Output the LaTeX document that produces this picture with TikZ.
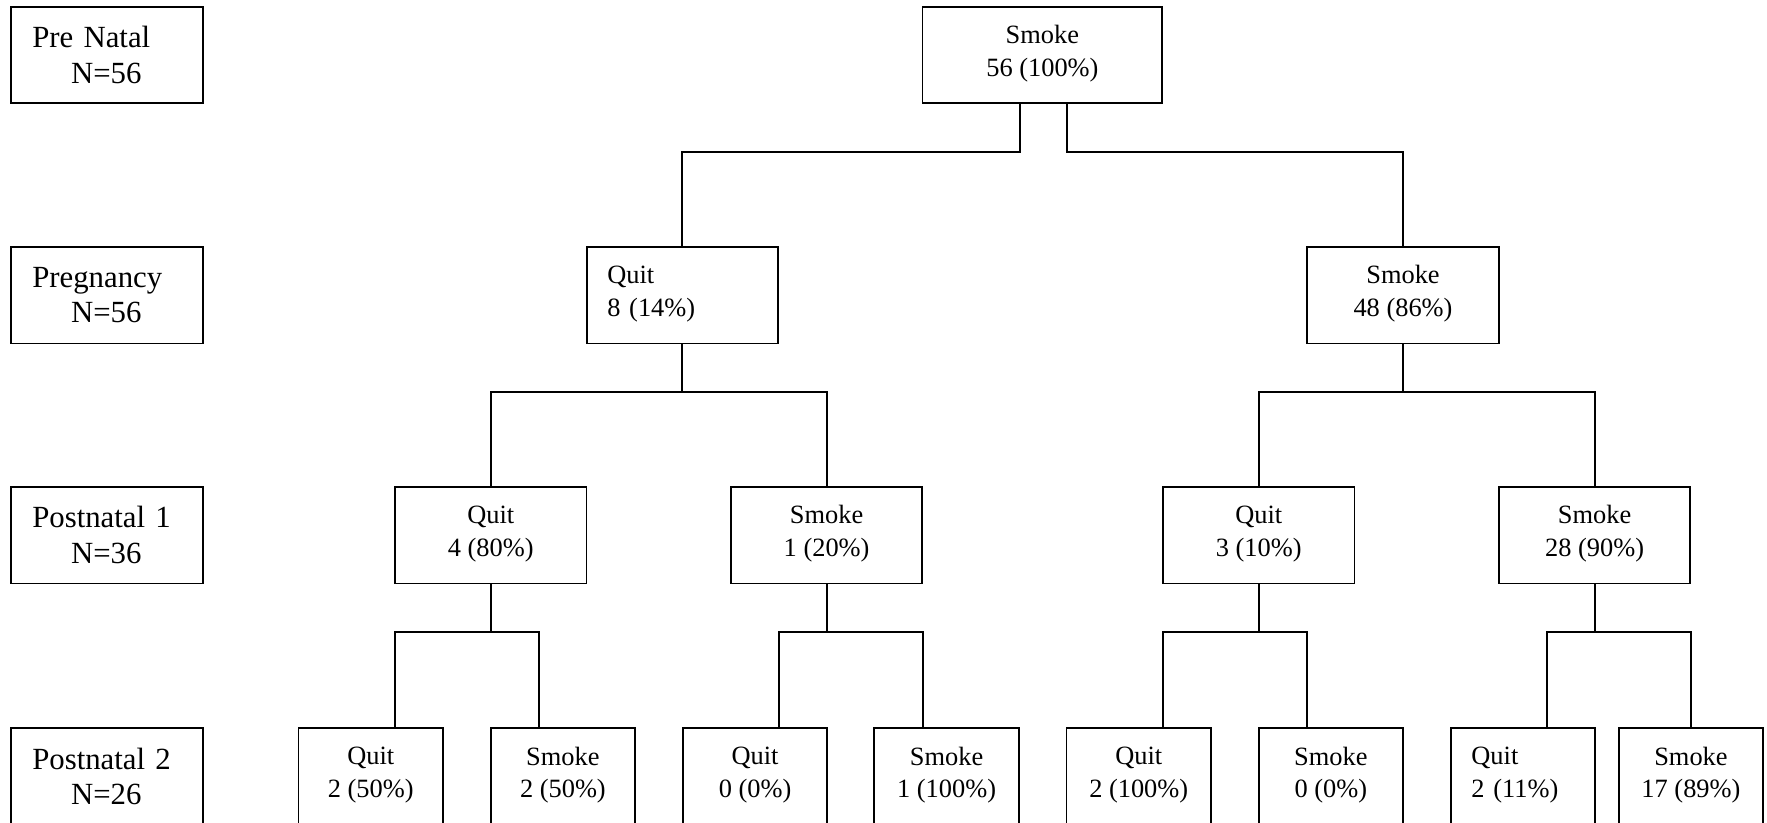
\documentclass[tikz,border=0pt]{standalone}
\usepackage{fontspec}
\setmainfont{Liberation Serif}
\usetikzlibrary{calc}
\tikzset{
  lab/.style={draw,line width=0.85pt,minimum width=3.07cm,minimum height=1.54cm,
              inner xsep=0.34cm,text width=2.39cm,align=left,
              font=\fontsize{14}{16.2}\selectfont},
  cell/.style={draw,line width=0.85pt,minimum height=1.54cm,align=center,
              text depth=3.8pt,font=\fontsize{12}{14.8}\selectfont},
  mid/.style={cell,minimum width=3.06cm},
  wide/.style={cell,minimum width=3.83cm},
  leaf/.style={cell,minimum width=2.31cm},
  lcell/.style={align=left,inner xsep=0.33cm,text depth=18.6pt},
  link/.style={line width=0.85pt},
}

\begin{document}
\begin{tikzpicture}[x=0.018cm,y=0.018cm]
  \useasboundingbox (0,0) rectangle (1568,730);

  % ---- stage labels ----
  \node[lab] (prenatal) at (95,681) {Pre Natal\\\hspace*{0.62cm}N=56};
  \node[lab] (pregnancy) at (95,468) {Pregnancy\\\hspace*{0.62cm}N=56};
  \node[lab] (postone) at (95,255) {Postnatal 1\\\hspace*{0.62cm}N=36};
  \node[lab] (posttwo) at (95,41) {Postnatal 2\\\hspace*{0.62cm}N=26};

  % ---- tree ----
  \node[wide] (root) at (925,681) {Smoke\\56 (100\%)};
  \node[mid,lcell,text width=2.4cm] (q) at (605.5,468) {Quit\\8 (14\%)};
  \node[mid] (s) at (1245,468) {Smoke\\48 (86\%)};

  \node[mid] (qq) at (435.5,255) {Quit\\4 (80\%)};
  \node[mid] (qs) at (733.5,255) {Smoke\\1 (20\%)};
  \node[mid] (sq) at (1117,255) {Quit\\3 (10\%)};
  \node[mid] (ss) at (1415,255) {Smoke\\28 (90\%)};

  \node[leaf] (qqq) at (329,41) {Quit\\2 (50\%)};
  \node[leaf] (qqs) at (499.5,41) {Smoke\\2 (50\%)};
  \node[leaf] (qsq) at (670,41) {Quit\\0 (0\%)};
  \node[leaf] (qss) at (840,41) {Smoke\\1 (100\%)};
  \node[leaf] (sqq) at (1010.5,41) {Quit\\2 (100\%)};
  \node[leaf] (sqs) at (1181,41) {Smoke\\0 (0\%)};
  \node[leaf,lcell,text width=1.65cm] (ssq) at (1351.5,41) {Quit\\2 (11\%)};
  \node[leaf] (sss) at (1500.5,41) {Smoke\\17 (89\%)};

  % ---- connectors ----
  \draw[link] ($(root.south)+(-20,0)$) -- ++(0,-42) -| (q.north);
  \draw[link] ($(root.south)+(21.5,0)$) -- ++(0,-42) -| (s.north);

  \draw[link] (q.south) -- ++(0,-42) coordinate (qj) -| (qq.north) (qj) -| (qs.north);
  \draw[link] (s.south) -- ++(0,-42) coordinate (sj) -| (sq.north) (sj) -| (ss.north);

  \draw[link] (qq.south) -- ++(0,-42) coordinate (qqj) -| ($(qqq.north)+(21.5,0)$)
    (qqj) -| ($(qqs.north)+(-21.5,0)$);
  \draw[link] (qs.south) -- ++(0,-42) coordinate (qsj) -| ($(qsq.north)+(21,0)$)
    (qsj) -| ($(qss.north)+(-21,0)$);
  \draw[link] (sq.south) -- ++(0,-42) coordinate (sqj) -| ($(sqq.north)+(21.5,0)$)
    (sqj) -| ($(sqs.north)+(-21,0)$);
  \draw[link] (ss.south) -- ++(0,-42) coordinate (ssj) -| ($(ssq.north)+(21.5,0)$)
    (ssj) -| (sss.north);
\end{tikzpicture}
\end{document}
